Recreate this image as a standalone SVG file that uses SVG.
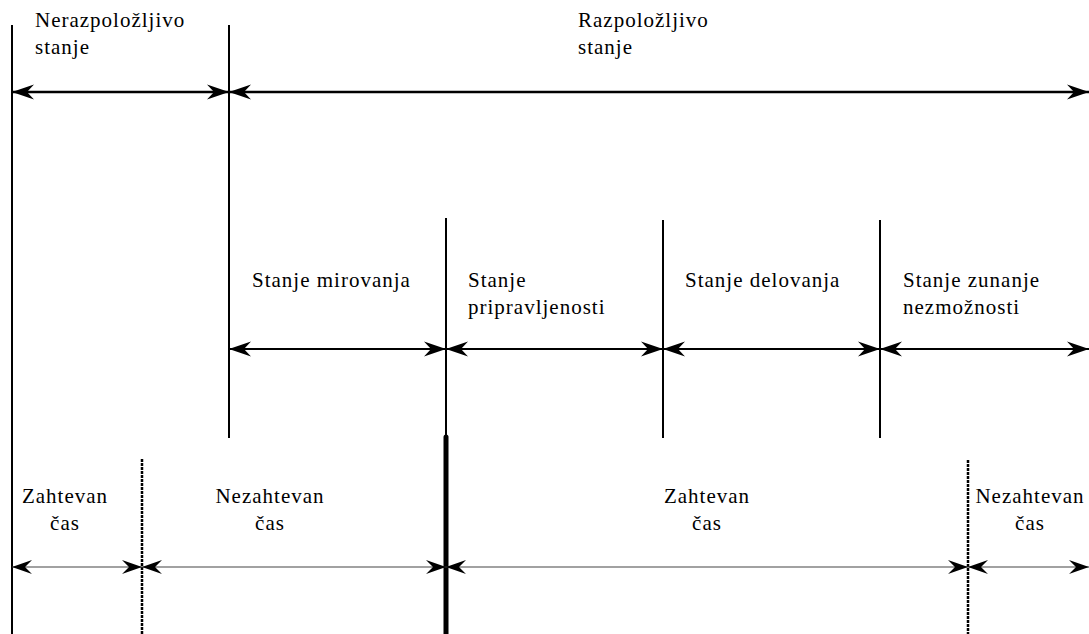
<svg xmlns="http://www.w3.org/2000/svg" width="1089" height="634" viewBox="0 0 1089 634">
<style>
.t{font-family:'Liberation Serif','Tinos','DejaVu Serif',serif;font-size:21px;letter-spacing:1px;fill:#000}
.v{stroke:#000;stroke-width:2;fill:none}
.a1{stroke:#000;stroke-width:2.5;fill:none;marker-start:url(#ah);marker-end:url(#ah)}
.a2{stroke:#000;stroke-width:2;fill:none;marker-start:url(#ah);marker-end:url(#ah)}
.a3{stroke:#444;stroke-width:1.2;fill:none;marker-start:url(#ahs);marker-end:url(#ahs)}
.d{stroke:#000;stroke-width:2.5;stroke-dasharray:3 1;fill:none}
.m{text-anchor:middle}
</style>
<defs>
<marker id="ah" markerUnits="userSpaceOnUse" viewBox="-22 -8 24 16" refX="0" refY="0" markerWidth="24" markerHeight="16" orient="auto-start-reverse" overflow="visible">
<path d="M0,0 L-22,-7.5 L-15,0 L-22,7.5 Z" fill="#000"/>
</marker>
<marker id="ahs" markerUnits="userSpaceOnUse" viewBox="-22 -8 24 16" refX="0" refY="0" markerWidth="24" markerHeight="16" orient="auto-start-reverse" overflow="visible">
<path d="M0,0 L-20,-7 L-13,0 L-20,7 Z" fill="#000"/>
</marker>
</defs>
<g id="boundaries">
<line class="v" x1="12" y1="25" x2="12" y2="634"/>
<line class="v" x1="229" y1="25" x2="229" y2="438"/>
<line class="v" x1="446" y1="218" x2="446" y2="436"/>
<line x1="446" y1="437" x2="446" y2="634" stroke="#000" stroke-width="5" stroke-linecap="round"/>
<line class="v" x1="663" y1="220" x2="663" y2="438"/>
<line class="v" x1="880" y1="220" x2="880" y2="438"/>
<line class="d" x1="142" y1="459" x2="142" y2="634"/>
<line class="d" x1="968" y1="460" x2="968" y2="634"/>
</g>
<g id="connectors">
<line class="a1" x1="12" y1="92" x2="229" y2="92"/>
<line class="a1" x1="229" y1="92" x2="1089" y2="92"/>
<line class="a2" x1="229" y1="349" x2="446" y2="349"/>
<line class="a2" x1="446" y1="349" x2="663" y2="349"/>
<line class="a2" x1="663" y1="349" x2="880" y2="349"/>
<line class="a2" x1="880" y1="349" x2="1089" y2="349"/>
<line class="a3" x1="12" y1="567" x2="142" y2="567"/>
<line class="a3" x1="142" y1="567" x2="446" y2="567"/>
<line class="a3" x1="446" y1="567" x2="968" y2="567"/>
<line class="a3" x1="968" y1="567" x2="1089" y2="567"/>
</g>
<g class="t" font-family="Liberation Serif, serif" font-size="21">
<g id="n-nerazpolozljivo"><text x="35" y="27">Nerazpoložljivo</text><text x="35" y="54">stanje</text></g>
<g id="n-razpolozljivo"><text x="578" y="27">Razpoložljivo</text><text x="578" y="54">stanje</text></g>
<g id="n-mirovanja"><text x="252" y="287">Stanje mirovanja</text></g>
<g id="n-pripravljenosti"><text x="468" y="287">Stanje</text><text x="468" y="314">pripravljenosti</text></g>
<g id="n-delovanja"><text x="685" y="287">Stanje delovanja</text></g>
<g id="n-zunanje"><text x="903" y="287">Stanje zunanje</text><text x="903" y="314">nezmožnosti</text></g>
<g id="n-zahtevan1"><text class="m" x="65" y="503">Zahtevan</text><text class="m" x="65" y="530">čas</text></g>
<g id="n-nezahtevan1"><text class="m" x="270" y="503">Nezahtevan</text><text class="m" x="270" y="530">čas</text></g>
<g id="n-zahtevan2"><text class="m" x="707" y="503">Zahtevan</text><text class="m" x="707" y="530">čas</text></g>
<g id="n-nezahtevan2"><text class="m" x="1030" y="503">Nezahtevan</text><text class="m" x="1030" y="530">čas</text></g>
</g>
</svg>
